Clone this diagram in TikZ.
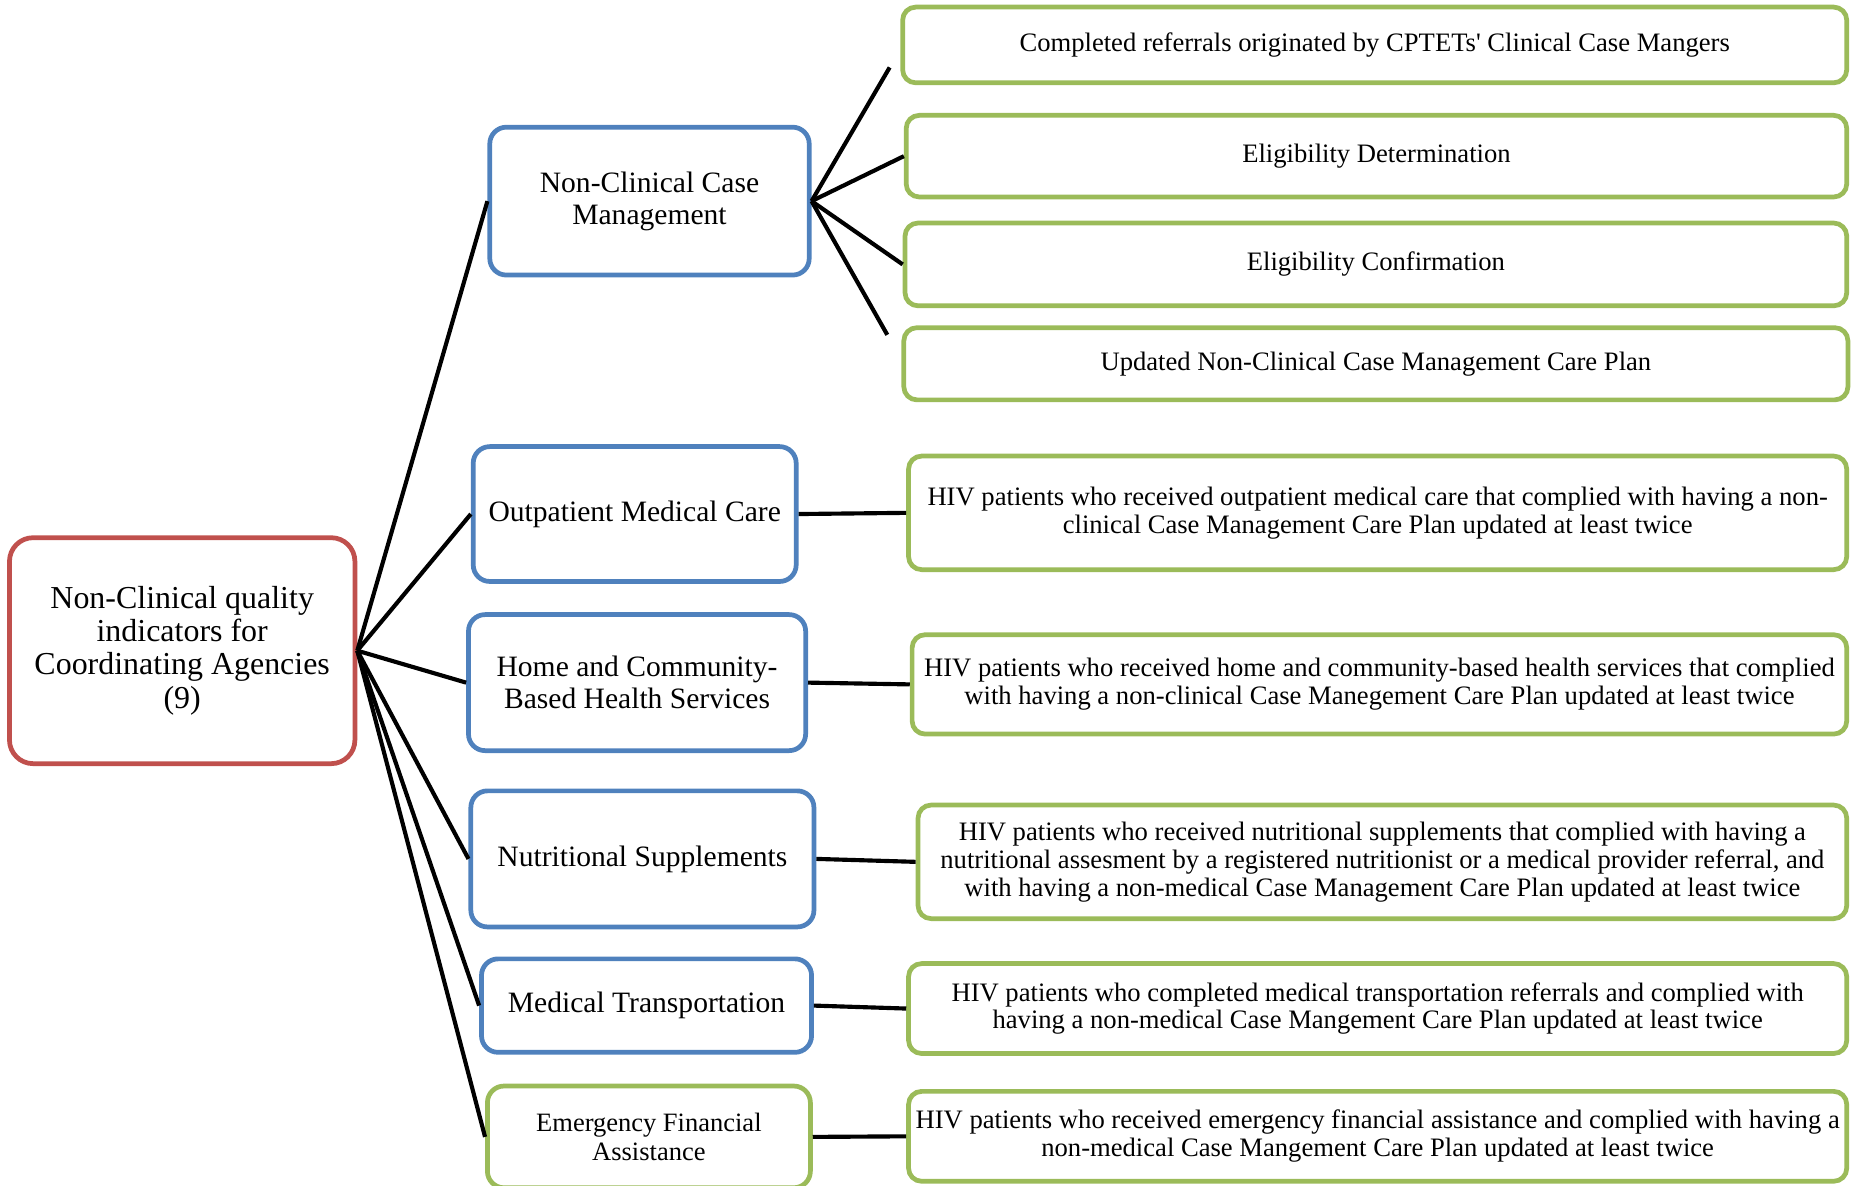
\documentclass[tikz,border=0pt]{standalone}
\usepackage{fontspec}
\setmainfont{Liberation Serif}
\definecolor{redb}{HTML}{C0504D}
\definecolor{blueb}{HTML}{4F81BD}
\definecolor{greenb}{HTML}{9BBB59}
\begin{document}
\begin{tikzpicture}[x=1pt,y=-1pt,
  box/.style={draw, line width=4pt, fill=white, align=center, inner sep=2pt},
  rootbox/.style={box, draw=redb, rounded corners=20pt, font=\fontsize{27}{28}\selectfont},
  catbox/.style={box, draw=blueb, rounded corners=14pt, font=\fontsize{25}{27}\selectfont},
  catgbox/.style={box, draw=greenb, rounded corners=14pt, font=\fontsize{22.4}{24}\selectfont},
  indbox/.style={box, draw=greenb, rounded corners=11pt, font=\fontsize{22.5}{23.5}\selectfont},
  link/.style={line width=3.5pt, black}]
\useasboundingbox (0,0) rectangle (1568,1002);
\clip (0,0) rectangle (1568,1002);
% root
\node[rootbox, minimum width=292, minimum height=191] (root) at (154,550)
  {Non-Clinical quality\\indicators for\\Coordinating Agencies\\(9)};
% categories
\node[catbox, minimum width=270, minimum height=125] (n1) at (549,170) {Non-Clinical Case\\Management};
\node[catbox, minimum width=273, minimum height=114] (n2) at (536.5,434.5) {Outpatient Medical Care};
\node[catbox, minimum width=285, minimum height=115] (n3) at (538.5,577) {Home and Community-\\Based Health Services};
\node[catbox, minimum width=290, minimum height=115] (n4) at (543,726) {Nutritional Supplements};
\node[catbox, minimum width=279, minimum height=79] (n5) at (546.5,850) {Medical Transportation};
\node[catgbox, minimum width=273, minimum height=86] (n6) at (548.5,961)
  {Emergency Financial\\Assistance};
% indicators
\node[indbox, minimum width=798, minimum height=64] (g1) at (1162,38) {Completed referrals originated by CPTETs\textquotesingle{} Clinical Case Mangers};
\node[indbox, minimum width=795, minimum height=69] (g2) at (1163.5,132) {Eligibility Determination};
\node[indbox, minimum width=796, minimum height=70] (g3) at (1163,223.5) {Eligibility Confirmation};
\node[indbox, minimum width=798, minimum height=61] (g4) at (1163,307.5) {Updated Non-Clinical Case Management Care Plan};
\node[indbox, minimum width=793, minimum height=96] (g5) at (1164.5,433.5) {HIV patients who received outpatient medical care that complied with having a non-\\clinical Case Management Care Plan updated at least twice};
\node[indbox, minimum width=790, minimum height=84] (g6) at (1166,578.5) {HIV patients who received home and community-based health services that complied\\with having a non-clinical Case Manegement Care Plan updated at least twice};
\node[indbox, minimum width=785, minimum height=96] (g7) at (1168.5,728.5) {HIV patients who received nutritional supplements that complied with having a\\nutritional assesment by a registered nutritionist or a medical provider referral, and\\with having a non-medical Case Management Care Plan updated at least twice};
\node[indbox, minimum width=793, minimum height=76] (g8) at (1164.5,852.5) {HIV patients who completed medical transportation referrals and complied with\\having a non-medical Case Mangement Care Plan updated at least twice};
\node[indbox, minimum width=793, minimum height=76] (g9) at (1164.5,960.5) {HIV patients who received emergency financial assistance and complied with having a\\non-medical Case Mangement Care Plan updated at least twice};
% free ends
\coordinate (c1) at (752,57);
\coordinate (c4) at (750,283);
% connectors
\foreach \n in {n1,n2,n3,n4,n5,n6} \draw[link] (root.east) -- (\n.west);
\draw[link] (n1.east) -- (c1);
\draw[link] (n1.east) -- (g2.west);
\draw[link] (n1.east) -- (g3.west);
\draw[link] (n1.east) -- (c4);
\draw[link] (n2.east) -- (g5.west);
\draw[link] (n3.east) -- (g6.west);
\draw[link] (n4.east) -- (g7.west);
\draw[link] (n5.east) -- (g8.west);
\draw[link] (n6.east) -- (g9.west);
\end{tikzpicture}
\end{document}
